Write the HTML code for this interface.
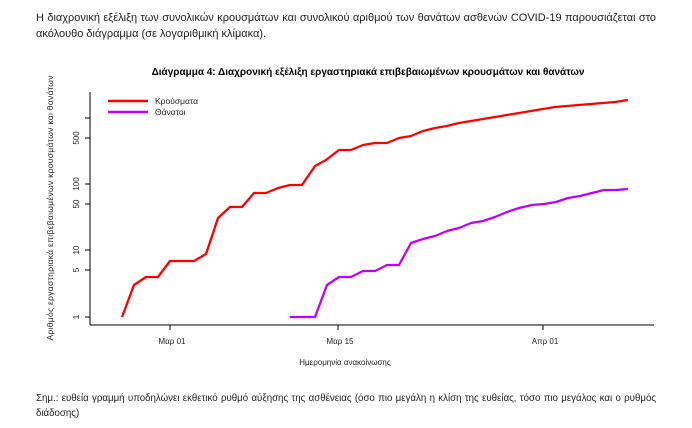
<!DOCTYPE html>
<html><head><meta charset="utf-8"><style>
html,body{margin:0;padding:0;background:#fff;}
body{width:692px;height:428px;overflow:hidden;position:relative;font-family:"Liberation Sans","DejaVu Sans",sans-serif;}
.p{position:absolute;left:36px;width:620px;font-size:11px;color:#222;line-height:16px;text-align:justify;}
</style></head><body>
<div class="p" style="top:10px;text-align-last:justify;">Η διαχρονική εξέλιξη των συνολικών κρουσμάτων και συνολικού αριθμού των θανάτων ασθενών COVID-19 παρουσιάζεται στο</div>
<div class="p" style="top:26px;">ακόλουθο διάγραμμα (σε λογαριθμική κλίμακα).</div>
<svg width="692" height="428" style="position:absolute;left:0;top:0" font-family="Liberation Sans, DejaVu Sans, sans-serif">
<text x="368" y="75" font-size="10" font-weight="bold" text-anchor="middle" fill="#000">Διάγραμμα 4: Διαχρονική εξέλιξη εργαστηριακά επιβεβαιωμένων κρουσμάτων και θανάτων</text>
<g stroke="#000" stroke-width="1" fill="none">
<line x1="90" y1="92" x2="90" y2="325"/>
<line x1="90" y1="325" x2="654" y2="325"/>
<line x1="85" y1="317" x2="90" y2="317"/><line x1="85" y1="270" x2="90" y2="270"/><line x1="85" y1="250" x2="90" y2="250"/><line x1="85" y1="204" x2="90" y2="204"/><line x1="85" y1="184" x2="90" y2="184"/><line x1="85" y1="138" x2="90" y2="138"/><line x1="85" y1="118" x2="90" y2="118"/>
<line x1="170" y1="325" x2="170" y2="330"/><line x1="338" y1="325" x2="338" y2="330"/><line x1="543" y1="325" x2="543" y2="330"/>
</g>
<g font-size="8" fill="#222" text-anchor="middle">
<text transform="translate(79,317) rotate(-90)">1</text>
<text transform="translate(79,270) rotate(-90)">5</text>
<text transform="translate(79,250) rotate(-90)">10</text>
<text transform="translate(79,204) rotate(-90)">50</text>
<text transform="translate(79,184) rotate(-90)">100</text>
<text transform="translate(79,138) rotate(-90)">500</text>
<text x="172" y="344">Μαρ 01</text>
<text x="340" y="344">Μαρ 15</text>
<text x="545" y="344">Απρ 01</text>
<text x="345" y="365">Ημερομηνία ανακοίνωσης</text>
<text transform="translate(53,208) rotate(-90)" font-size="8.5" textLength="265" lengthAdjust="spacing">Αριθμός εργαστηριακά επιβεβαιωμένων κρουσμάτων και θανάτων</text>
</g>
<line x1="108" y1="101" x2="148" y2="101" stroke="#ff0000" stroke-width="2.5"/>
<line x1="108" y1="112" x2="148" y2="112" stroke="#bf00ff" stroke-width="2.5"/>
<text x="155" y="104" font-size="8.5" fill="#222">Κρούσματα</text>
<text x="155" y="115" font-size="8.5" fill="#222">Θάνατοι</text>
<polyline fill="none" stroke="#ff0000" stroke-width="2.3" stroke-linejoin="round" points="122,317 134,285 146,277 158,277 170,261 182,261 194,261 206,254 218,218 230,207 242,207 254,193 266,193 278,188 290,185 302,185 315,166 326,160 339,150 351,150 363,145 375,143 387,143 399,138 411,136 423,131 435,128 447,126 459,123 471,121 483,119 495,117 507,115 519,113 531,111 543,109 555,107 567,106 579,105 591,104 603,103 615,102 628,100"/>
<polyline fill="none" stroke="#bf00ff" stroke-width="2.3" stroke-linejoin="round" points="290,317 302,317 315,317 327,285 339,277 351,277 363,271 375,271 387,265 399,265 411,243 423,239 435,236 447,231 459,228 471,223 483,221 495,217 507,212 519,208 532,205 544,204 556,202 568,198 580,196 592,193 604,190 616,190 628,189"/>
</svg>
<div class="p" style="top:391px;font-size:9.7px;text-align-last:justify;white-space:nowrap;">Σημ.: ευθεία γραμμή υποδηλώνει εκθετικό ρυθμό αύξησης της ασθένειας (όσο πιο μεγάλη η κλίση της ευθείας, τόσο πιο μεγάλος και ο ρυθμός</div>
<div class="p" style="top:406px;font-size:9.7px;">διάδοσης)</div>
</body></html>
